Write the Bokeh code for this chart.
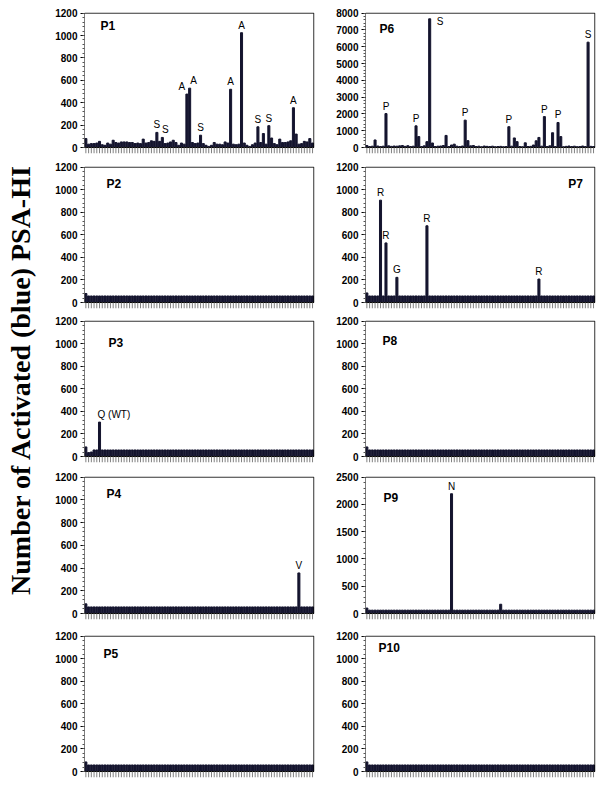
import math
from bokeh.plotting import figure
from bokeh.layouts import row, column
from bokeh.models import FixedTicker, Range1d
from bokeh.embed import file_html
from bokeh.resources import INLINE
from bokeh.core.properties import value

N = 84
positions = list(range(N))

p1_vals = [80, 30, 35, 35, 40, 55, 25, 20, 40, 30, 65, 45, 40, 50, 50, 50, 45, 45, 35, 40,
           35, 75, 40, 45, 60, 55, 135, 55, 90, 35, 40, 50, 65, 45, 20, 40, 30, 477, 530, 45,
           35, 40, 110, 35, 20, 10, 20, 45, 30, 30, 25, 50, 40, 520, 30, 25, 30, 1025, 40, 20,
           10, 25, 40, 185, 45, 125, 30, 195, 85, 35, 25, 75, 45, 45, 50, 60, 355, 120, 30, 35,
           55, 50, 80, 40]
p2_vals = [80, 58, 58, 58, 58, 58, 58, 58, 58, 58, 58, 58, 58, 58, 58, 58, 58, 58, 58, 58,
           58, 58, 58, 58, 58, 58, 58, 58, 58, 58, 58, 58, 58, 58, 58, 58, 58, 58, 58, 58,
           58, 58, 58, 58, 58, 58, 58, 58, 58, 58, 58, 58, 58, 58, 58, 58, 58, 58, 58, 58,
           58, 58, 58, 58, 58, 58, 58, 58, 58, 58, 58, 58, 58, 58, 58, 58, 58, 58, 58, 58,
           58, 58, 58, 58]
p3_vals = [85, 35, 40, 58, 58, 305, 58, 58, 58, 58, 58, 58, 58, 58, 58, 58, 58, 58, 58, 58,
           58, 58, 58, 58, 58, 58, 58, 58, 58, 58, 58, 58, 58, 58, 58, 58, 58, 58, 58, 58,
           58, 58, 58, 58, 58, 58, 58, 58, 58, 58, 58, 58, 58, 58, 58, 58, 58, 58, 58, 58,
           58, 58, 58, 58, 58, 58, 58, 58, 58, 58, 58, 58, 58, 58, 58, 58, 58, 58, 58, 58,
           58, 58, 58, 58]
p4_vals = [85, 58, 58, 58, 58, 58, 58, 58, 58, 58, 58, 58, 58, 58, 58, 58, 58, 58, 58, 58,
           58, 58, 58, 58, 58, 58, 58, 58, 58, 58, 58, 58, 58, 58, 58, 58, 58, 58, 58, 58,
           58, 58, 58, 58, 58, 58, 58, 58, 58, 58, 58, 58, 58, 58, 58, 58, 58, 58, 58, 58,
           58, 58, 58, 58, 58, 58, 58, 58, 58, 58, 58, 58, 58, 58, 58, 58, 58, 58, 357, 58,
           58, 58, 58, 58]
p5_vals = [85, 58, 58, 58, 58, 58, 58, 58, 58, 58, 58, 58, 58, 58, 58, 58, 58, 58, 58, 58,
           58, 58, 58, 58, 58, 58, 58, 58, 58, 58, 58, 58, 58, 58, 58, 58, 58, 58, 58, 58,
           58, 58, 58, 58, 58, 58, 58, 58, 58, 58, 58, 58, 58, 58, 58, 58, 58, 58, 58, 58,
           58, 58, 58, 58, 58, 58, 58, 58, 58, 58, 58, 58, 58, 58, 58, 58, 58, 58, 58, 58,
           58, 58, 58, 58]
p6_vals = [120, 60, 80, 450, 90, 60, 80, 2020, 100, 70, 90, 80, 100, 120, 70, 110, 60, 80, 1290, 650,
           60, 100, 350, 7660, 270, 60, 80, 90, 120, 720, 60, 150, 200, 80, 60, 90, 1630, 410, 100, 120,
           60, 80, 50, 90, 70, 60, 80, 50, 60, 70, 50, 60, 1240, 80, 570, 350, 60, 50, 280, 60,
           70, 150, 400, 600, 80, 1840, 60, 100, 880, 60, 1490, 650, 50, 70, 90, 60, 80, 50, 60, 90,
           60, 6270, 70, 60]
p7_vals = [85, 58, 58, 58, 58, 907, 58, 528, 58, 58, 58, 223, 58, 58, 58, 58, 58, 58, 58, 58,
           58, 58, 680, 58, 58, 58, 58, 58, 58, 58, 58, 58, 58, 58, 58, 58, 58, 58, 58, 58,
           58, 58, 58, 58, 58, 58, 58, 58, 58, 58, 58, 58, 58, 58, 58, 58, 58, 58, 58, 58,
           58, 58, 58, 208, 58, 58, 58, 58, 58, 58, 58, 58, 58, 58, 58, 58, 58, 58, 58, 58,
           58, 58, 58, 58]
p8_vals = [85, 58, 58, 58, 58, 58, 58, 58, 58, 58, 58, 58, 58, 58, 58, 58, 58, 58, 58, 58,
           58, 58, 58, 58, 58, 58, 58, 58, 58, 58, 58, 58, 58, 58, 58, 58, 58, 58, 58, 58,
           58, 58, 58, 58, 58, 58, 58, 58, 58, 58, 58, 58, 58, 58, 58, 58, 58, 58, 58, 58,
           58, 58, 58, 58, 58, 58, 58, 58, 58, 58, 58, 58, 58, 58, 58, 58, 58, 58, 58, 58,
           58, 58, 58, 58]
p9_vals = [100, 62, 62, 62, 62, 62, 62, 62, 62, 62, 62, 62, 62, 62, 62, 62, 62, 62, 62, 62,
           62, 62, 62, 62, 62, 62, 62, 62, 62, 62, 62, 2195, 62, 62, 62, 62, 62, 62, 62, 62,
           62, 62, 62, 62, 62, 62, 62, 62, 62, 170, 62, 62, 62, 62, 62, 62, 62, 62, 62, 62,
           62, 62, 62, 62, 62, 62, 62, 62, 62, 62, 62, 62, 62, 62, 62, 62, 62, 62, 62, 62,
           62, 62, 62, 62]
p10_vals = [85, 58, 58, 58, 58, 58, 58, 58, 58, 58, 58, 58, 58, 58, 58, 58, 58, 58, 58, 58,
            58, 58, 58, 58, 58, 58, 58, 58, 58, 58, 58, 58, 58, 58, 58, 58, 58, 58, 58, 58,
            58, 58, 58, 58, 58, 58, 58, 58, 58, 58, 58, 58, 58, 58, 58, 58, 58, 58, 58, 58,
            58, 58, 58, 58, 58, 58, 58, 58, 58, 58, 58, 58, 58, 58, 58, 58, 58, 58, 58, 58,
            58, 58, 58, 58]

# annotations: (bar index, letter)
p1_ann = [(26, "S"), (28, "S"), (37, "A"), (38, "A"), (42, "S"), (53, "A"), (57, "A"),
          (63, "S"), (67, "S"), (76, "A")]
p1_ann_dx = [0, 3, -5, 4, 0, 0, 0, 0, 0, 0]   # screen-pixel nudges for overlapping letters
p3_ann = [(5, "Q (WT)")]
p4_ann = [(78, "V")]
p6_ann = [(7, "P"), (18, "P"), (36, "P"), (52, "P"), (65, "P"), (70, "P"), (81, "S")]
p6_side_ann = [(23, "S")]
p7_ann = [(5, "R"), (7, "R"), (11, "G"), (22, "R"), (63, "R")]
p9_ann = [(31, "N")]

BAR = "#14142e"
LBL_FONT = "Liberation Sans"
TICK_LEN = 6  # px, x tick marks below the frame

# row geometry: (border_top, frame_h, border_bottom)
rows_geom = [(12, 135, 13), (6, 136, 12), (6, 136, 14), (6, 137, 15), (7, 136, 12)]


def make_panel(vals, ymax, step, minor, name, name_pos, ann, geom, left, side_ann=(),
               name_right=False, ann_left=False, ann_dx=None):
    bt, fh, bb = geom
    bl = 46
    br = 5 if left else 3
    fw = 230
    ystart = -ymax * TICK_LEN / fh
    xpad = N / fw * 0.6
    p = figure(width=bl + fw + br, height=bt + fh + bb,
               x_range=Range1d(-0.5, N - 0.5 + xpad), y_range=Range1d(ystart, ymax * (1 + 0.6 / fh)),
               output_backend="svg", toolbar_location=None, x_axis_location=None,
               min_border_left=bl, min_border_right=br, min_border_top=bt,
               min_border_bottom=bb - TICK_LEN)
    p.grid.visible = False
    p.outline_line_color = None
    p.background_fill_color = None
    p.vbar(x=positions, top=vals, width=0.75, bottom=0, color=BAR)
    # frame box
    p.quad(left=[-0.5], right=[N - 0.5], bottom=[0], top=[ymax], fill_color=None,
           line_color="black", line_width=1)
    # category tick marks under the baseline
    p.segment(x0=positions, y0=[0] * N, x1=positions, y1=[ystart] * N,
              line_color="#808080", line_width=1)

    ya = p.yaxis[0]
    ya.ticker = FixedTicker(ticks=list(range(0, ymax + 1, step)),
                            minor_ticks=list(range(0, ymax + 1, minor)))
    ya.axis_line_color = None
    ya.major_tick_line_color = "black"
    ya.minor_tick_line_color = "#555555"
    ya.major_tick_out = 4
    ya.major_tick_in = 0
    ya.minor_tick_out = 2
    ya.minor_tick_in = 0
    ya.major_label_standoff = 3
    ya.major_label_text_font = LBL_FONT
    ya.major_label_text_font_style = "bold"
    ya.major_label_text_font_size = "10px"
    ya.major_label_text_color = "black"

    # panel name
    fx, fy = name_pos
    if name_right:
        nx = -0.5 + (fw - fx) / fw * N
        align = "right"
    else:
        nx = -0.5 + fx / fw * N
        align = "left"
    ny = ymax * (1 - fy / fh)
    p.text(x=[nx], y=[ny], text=[name], text_font=value(LBL_FONT), text_font_style="bold",
           text_font_size="12px", text_align=align, text_baseline="top", text_color="black")

    if ann:
        ax = [a[0] for a in ann]
        ay = [vals[a[0]] for a in ann]
        at = [a[1] for a in ann]
        dx = ann_dx if ann_dx is not None else [0] * len(ann)
        if ann_left:
            dx = [d - 2 for d in dx]
        p.text(x=ax, y=ay, text=at, text_font=value(LBL_FONT), text_font_size="10px",
               text_align="left" if ann_left else "center", text_baseline="bottom",
               y_offset=-2, x_offset=dx, text_color="black")
    if side_ann:
        sx = [a[0] for a in side_ann]
        sy = [vals[a[0]] for a in side_ann]
        st = [a[1] for a in side_ann]
        p.text(x=sx, y=sy, text=st, text_font=value(LBL_FONT), text_font_size="10px",
               text_align="left", text_baseline="top", x_offset=7, y_offset=-3,
               text_color="black")
    return p


left_specs = [
    (p1_vals, 1200, 200, 40, "P1", (16, 6), p1_ann, {"ann_dx": p1_ann_dx}),
    (p2_vals, 1200, 200, 40, "P2", (22, 10), [], {}),
    (p3_vals, 1200, 200, 40, "P3", (24, 15), p3_ann, {"ann_left": True}),
    (p4_vals, 1200, 200, 40, "P4", (22, 10), p4_ann, {}),
    (p5_vals, 1200, 200, 40, "P5", (19, 11), [], {}),
]
right_specs = [
    (p6_vals, 8000, 1000, 200, "P6", (14, 9), p6_ann, {"side_ann": p6_side_ann}),
    (p7_vals, 1200, 200, 40, "P7", (12, 10), p7_ann, {"name_right": True}),
    (p8_vals, 1200, 200, 40, "P8", (17, 13), [], {}),
    (p9_vals, 2500, 500, 100, "P9", (18, 14), p9_ann, {}),
    (p10_vals, 1200, 200, 40, "P10", (13, 5), [], {}),
]

left_col = [make_panel(v, ym, st, mn, nm, pos, an, rows_geom[i], True, **kw)
            for i, (v, ym, st, mn, nm, pos, an, kw) in enumerate(left_specs)]
right_col = [make_panel(v, ym, st, mn, nm, pos, an, rows_geom[i], False, **kw)
             for i, (v, ym, st, mn, nm, pos, an, kw) in enumerate(right_specs)]

total_h = sum(g[0] + g[1] + g[2] for g in rows_geom)
LW = 38
lab = figure(width=LW, height=total_h, x_range=Range1d(0, LW), y_range=Range1d(0, total_h),
             output_backend="svg", toolbar_location=None, x_axis_location=None,
             y_axis_location=None, min_border=0)
lab.outline_line_color = None
lab.grid.visible = False
lab.text(x=[20], y=[total_h - 379], text=["Number of Activated (blue) PSA-HI"],
         text_font=value("Liberation Serif"), text_font_style="bold", text_font_size="28px",
         angle=math.pi / 2, text_align="center", text_baseline="middle", text_color="black")

layout = row(lab, column(*left_col), column(*right_col))

open("out.html", "w").write(file_html(layout, INLINE))
